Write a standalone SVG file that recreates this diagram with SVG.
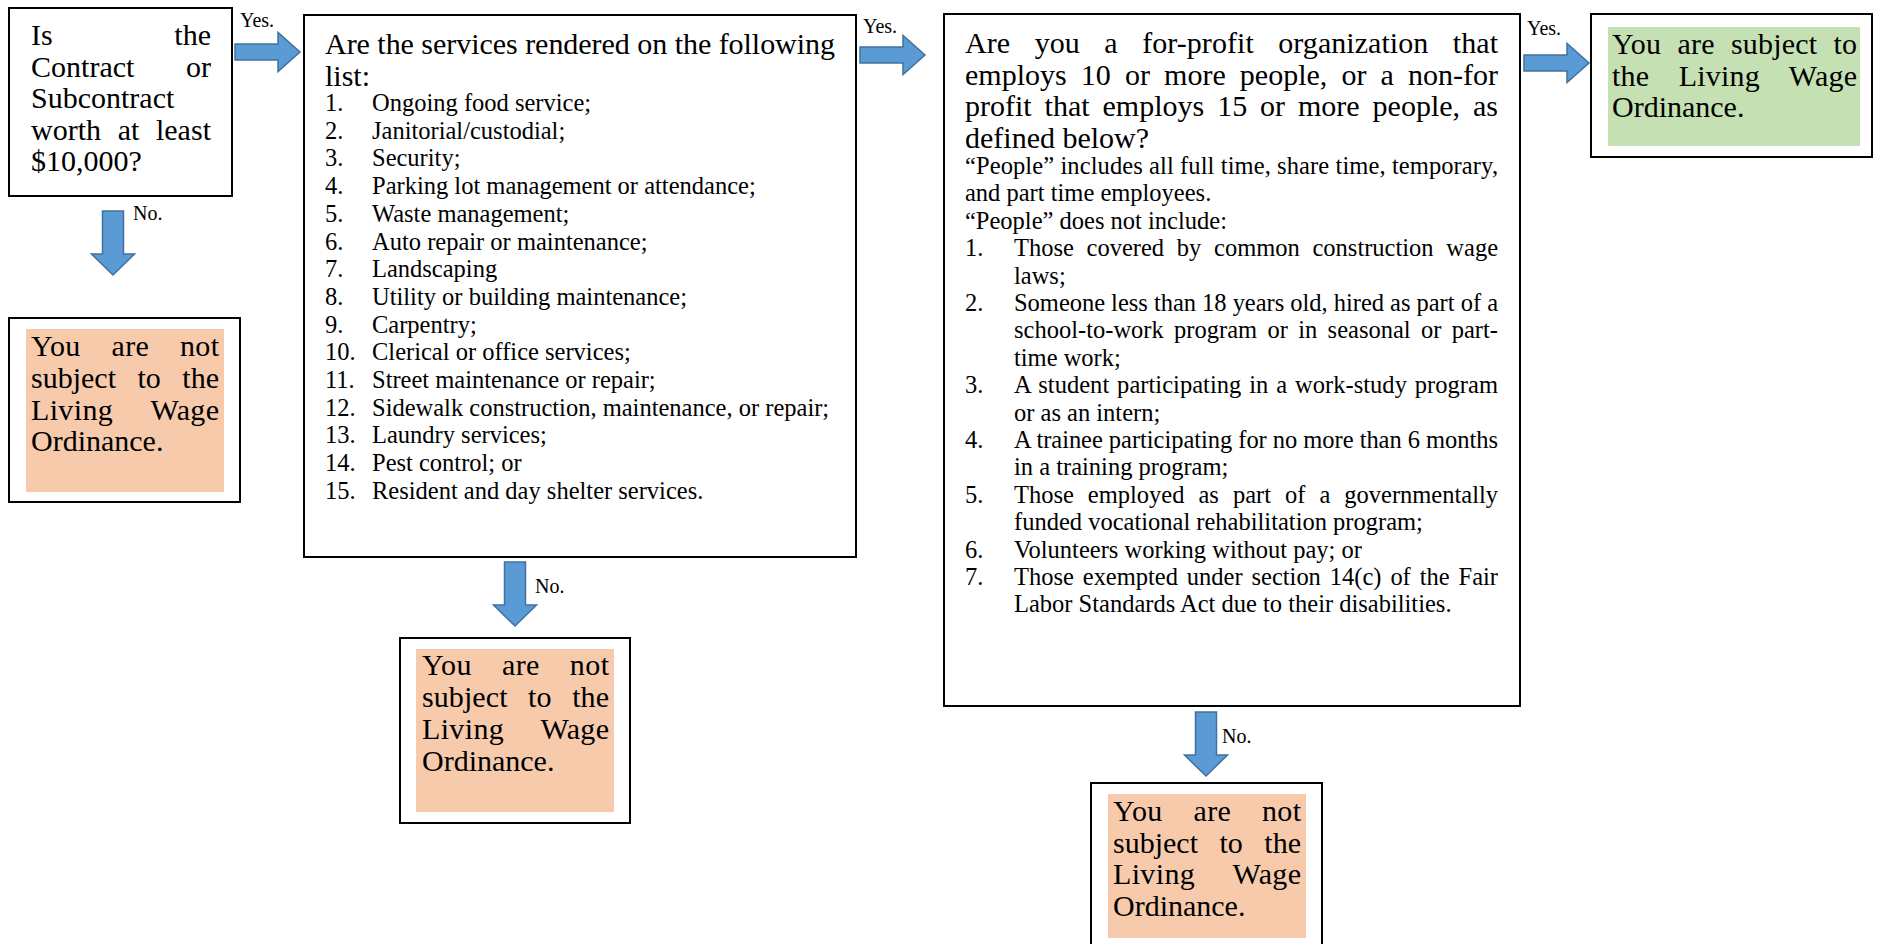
<svg xmlns="http://www.w3.org/2000/svg" width="1879" height="944" viewBox="0 0 1879 944">
<style>
.box{fill:#fff;stroke:#000;stroke-width:2}
.nofill{fill:#F7CAAC}
.yesfill{fill:#C5E0B3}
.arrow{fill:#5B9BD5;stroke:#41719C;stroke-width:1.5}
text{font-family:"Liberation Serif","Times New Roman",serif;fill:#000}
.big{font-size:30px}
.sm{font-size:24.5px}
.lbl{font-size:20px}
</style>
<rect width="1879" height="944" fill="#fff"/>

<g id="q1">
<rect class="box" x="9" y="8" width="223" height="188"/>
<text class="big" x="31" y="45" textLength="180" lengthAdjust="spacing" style="word-spacing:114px">Is the</text>
<text class="big" x="31" y="76.5" textLength="180" lengthAdjust="spacing" style="word-spacing:44px">Contract or</text>
<text class="big" x="31" y="108">Subcontract</text>
<text class="big" x="31" y="139.5" textLength="180" lengthAdjust="spacing" style="word-spacing:9px">worth at least</text>
<text class="big" x="31" y="171">$10,000?</text>
</g>

<g id="notsubject1">
<rect class="box" x="9" y="318" width="231" height="184"/>
<rect class="nofill" x="26" y="329" width="198" height="163"/>
<text class="big" x="31" y="356" textLength="188" lengthAdjust="spacing" style="word-spacing:23px">You are not</text>
<text class="big" x="31" y="388" textLength="188" lengthAdjust="spacing" style="word-spacing:14px">subject to the</text>
<text class="big" x="31" y="420" textLength="188" lengthAdjust="spacing" style="word-spacing:30px">Living Wage</text>
<text class="big" x="31" y="451">Ordinance.</text>
</g>

<g id="q2">
<rect class="box" x="304" y="15" width="552" height="542"/>
<text class="big" x="325" y="54" textLength="510" lengthAdjust="spacing">Are the services rendered on the following</text>
<text class="big" x="325" y="85.5">list:</text>
<g class="sm">
<text class="sm" x="325" y="111">1.</text><text class="sm" x="372" y="111">Ongoing food service;</text>
<text class="sm" x="325" y="138.7">2.</text><text class="sm" x="372" y="138.7">Janitorial/custodial;</text>
<text class="sm" x="325" y="166.4">3.</text><text class="sm" x="372" y="166.4">Security;</text>
<text class="sm" x="325" y="194.1">4.</text><text class="sm" x="372" y="194.1">Parking lot management or attendance;</text>
<text class="sm" x="325" y="221.8">5.</text><text class="sm" x="372" y="221.8">Waste management;</text>
<text class="sm" x="325" y="249.5">6.</text><text class="sm" x="372" y="249.5">Auto repair or maintenance;</text>
<text class="sm" x="325" y="277.2">7.</text><text class="sm" x="372" y="277.2">Landscaping</text>
<text class="sm" x="325" y="304.9">8.</text><text class="sm" x="372" y="304.9">Utility or building maintenance;</text>
<text class="sm" x="325" y="332.6">9.</text><text class="sm" x="372" y="332.6">Carpentry;</text>
<text class="sm" x="325" y="360.3">10.</text><text class="sm" x="372" y="360.3">Clerical or office services;</text>
<text class="sm" x="325" y="388">11.</text><text class="sm" x="372" y="388">Street maintenance or repair;</text>
<text class="sm" x="325" y="415.7">12.</text><text class="sm" x="372" y="415.7">Sidewalk construction, maintenance, or repair;</text>
<text class="sm" x="325" y="443.4">13.</text><text class="sm" x="372" y="443.4">Laundry services;</text>
<text class="sm" x="325" y="471.1">14.</text><text class="sm" x="372" y="471.1">Pest control; or</text>
<text class="sm" x="325" y="498.8">15.</text><text class="sm" x="372" y="498.8">Resident and day shelter services.</text>
</g>
</g>

<g id="notsubject2">
<rect class="box" x="400" y="638" width="230" height="185"/>
<rect class="nofill" x="416" y="649" width="198" height="163"/>
<text class="big" x="422" y="675" textLength="187" lengthAdjust="spacing" style="word-spacing:22px">You are not</text>
<text class="big" x="422" y="707" textLength="187" lengthAdjust="spacing" style="word-spacing:13px">subject to the</text>
<text class="big" x="422" y="739" textLength="187" lengthAdjust="spacing" style="word-spacing:29px">Living Wage</text>
<text class="big" x="422" y="771">Ordinance.</text>
</g>

<g id="q3">
<rect class="box" x="944" y="14" width="576" height="692"/>
<text class="big" x="965" y="53" textLength="533" lengthAdjust="spacing" style="word-spacing:17px">Are you a for-profit organization that</text>
<text class="big" x="965" y="84.5" textLength="533" lengthAdjust="spacing" style="word-spacing:6.6px">employs 10 or more people, or a non-for</text>
<text class="big" x="965" y="116" textLength="533" lengthAdjust="spacing" style="word-spacing:5.4px">profit that employs 15 or more people, as</text>
<text class="big" x="965" y="147.5">defined below?</text>
<text class="sm" x="965" y="174" textLength="533" lengthAdjust="spacing">“People” includes all full time, share time, temporary,</text>
<text class="sm" x="965" y="201.4">and part time employees.</text>
<text class="sm" x="965" y="228.8">“People” does not include:</text>
<text class="sm" x="965" y="256.2">1.</text><text class="sm" x="1014" y="256.2" textLength="484" lengthAdjust="spacing" style="word-spacing:6.6px">Those covered by common construction wage</text>
<text class="sm" x="1014" y="283.6">laws;</text>
<text class="sm" x="965" y="311">2.</text><text class="sm" x="1014" y="311" textLength="484" lengthAdjust="spacing">Someone less than 18 years old, hired as part of a</text>
<text class="sm" x="1014" y="338.4" textLength="484" lengthAdjust="spacing" style="word-spacing:4.2px">school-to-work program or in seasonal or part-</text>
<text class="sm" x="1014" y="365.8">time work;</text>
<text class="sm" x="965" y="393.2">3.</text><text class="sm" x="1014" y="393.2" textLength="484" lengthAdjust="spacing" style="word-spacing:1.7px">A student participating in a work-study program</text>
<text class="sm" x="1014" y="420.6">or as an intern;</text>
<text class="sm" x="965" y="448">4.</text><text class="sm" x="1014" y="448" textLength="484" lengthAdjust="spacing">A trainee participating for no more than 6 months</text>
<text class="sm" x="1014" y="475.4">in a training program;</text>
<text class="sm" x="965" y="502.8">5.</text><text class="sm" x="1014" y="502.8" textLength="484" lengthAdjust="spacing" style="word-spacing:7.9px">Those employed as part of a governmentally</text>
<text class="sm" x="1014" y="530.2">funded vocational rehabilitation program;</text>
<text class="sm" x="965" y="557.6">6.</text><text class="sm" x="1014" y="557.6">Volunteers working without pay; or</text>
<text class="sm" x="965" y="585">7.</text><text class="sm" x="1014" y="585" textLength="484" lengthAdjust="spacing" style="word-spacing:2.8px">Those exempted under section 14(c) of the Fair</text>
<text class="sm" x="1014" y="612.4">Labor Standards Act due to their disabilities.</text>
</g>

<g id="notsubject3">
<rect class="box" x="1091" y="783" width="231" height="185"/>
<rect class="nofill" x="1108" y="794" width="198" height="144"/>
<text class="big" x="1113" y="821" textLength="188" lengthAdjust="spacing" style="word-spacing:23px">You are not</text>
<text class="big" x="1113" y="852.5" textLength="188" lengthAdjust="spacing" style="word-spacing:14px">subject to the</text>
<text class="big" x="1113" y="884" textLength="188" lengthAdjust="spacing" style="word-spacing:30px">Living Wage</text>
<text class="big" x="1113" y="916">Ordinance.</text>
</g>

<g id="subject">
<rect class="box" x="1591" y="14" width="281" height="143"/>
<rect class="yesfill" x="1608" y="27" width="252" height="119"/>
<text class="big" x="1612" y="54" textLength="245" lengthAdjust="spacing" style="word-spacing:8.7px">You are subject to</text>
<text class="big" x="1612" y="85.5" textLength="245" lengthAdjust="spacing" style="word-spacing:21.7px">the Living Wage</text>
<text class="big" x="1612" y="117">Ordinance.</text>
</g>

<g id="connectors">
<polygon class="arrow" points="235,44 278,44 278,32.5 300,52 278,71.5 278,60 235,60"/>
<text class="lbl" x="240" y="27">Yes.</text>
<polygon class="arrow" points="860,47 903,47 903,35.5 925,55 903,74.5 903,63 860,63"/>
<text class="lbl" x="863" y="33">Yes.</text>
<polygon class="arrow" points="1524,55 1567,55 1567,43.5 1589,63 1567,82.5 1567,71 1524,71"/>
<text class="lbl" x="1527" y="35">Yes.</text>
<polygon class="arrow" points="102.5,211 123.5,211 123.5,254 134.5,254 113,275 91.5,254 102.5,254"/>
<text class="lbl" x="133" y="220">No.</text>
<polygon class="arrow" points="504.5,562 525.5,562 525.5,605 536.5,605 515,626 493.5,605 504.5,605"/>
<text class="lbl" x="535" y="593">No.</text>
<polygon class="arrow" points="1195.5,712 1216.5,712 1216.5,755 1227.5,755 1206,776 1184.5,755 1195.5,755"/>
<text class="lbl" x="1222" y="743">No.</text>
</g>
</svg>
